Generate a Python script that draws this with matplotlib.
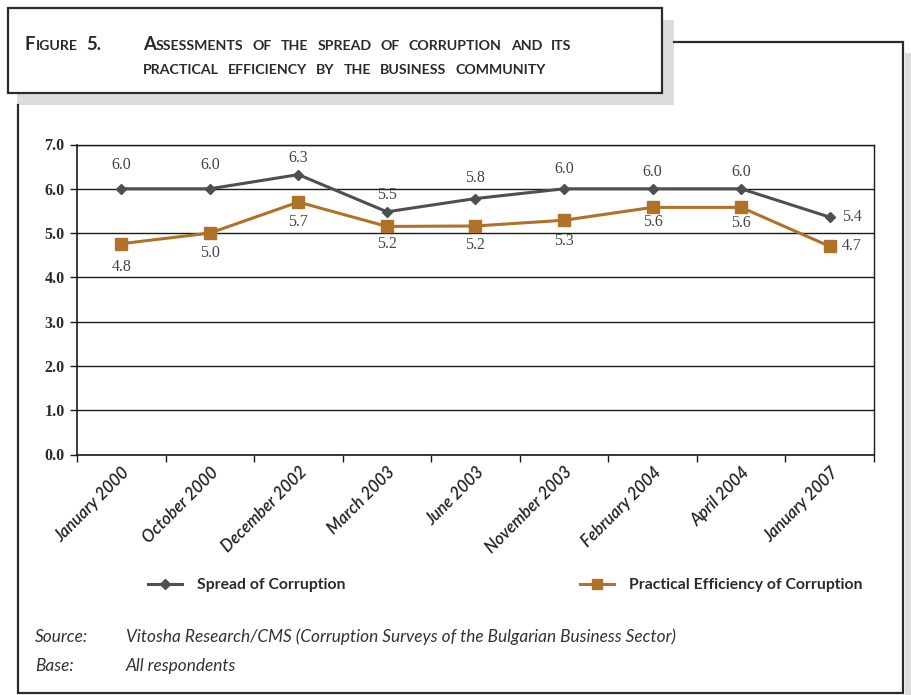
import matplotlib
matplotlib.use("Agg")
import matplotlib.pyplot as plt
from matplotlib.lines import Line2D
from matplotlib.patches import Rectangle

# Survey waves and the two index series (scale 0-7)
waves = ["January 2000", "October 2000", "December 2002", "March 2003", "June 2003",
         "November 2003", "February 2004", "April 2004", "January 2007"]
spread = [6.0, 6.0, 6.32, 5.48, 5.78, 6.0, 6.0, 6.0, 5.36]
efficiency = [4.76, 5.0, 5.7, 5.15, 5.16, 5.29, 5.58, 5.58, 4.7]
y_ticks = [0.0, 1.0, 2.0, 3.0, 4.0, 5.0, 6.0, 7.0]

# Vertical distance (points) of each value label from its marker
spread_label_dy = [17, 17, 12, 12, 14.5, 14, 12, 12, 0]
efficiency_label_dy = [-17, -14.5, -14.5, -13, -13.5, -15, -10.5, -11, 0]

W, H = 912, 695
GRAY = "#4f4f4f"
ORANGE = "#b07128"
SHADOW = "#dcdcdd"
FRAME = "#2b2b2b"

fig = plt.figure(figsize=(W / 100, H / 100), dpi=100)
fig.patch.set_facecolor("white")


def fx(x):
    return x / W


def fy(y):
    return 1 - y / H


def fline(xs, ys, **kw):
    fig.add_artist(Line2D([fx(v) for v in xs], [fy(v) for v in ys],
                          transform=fig.transFigure, **kw))


def frect(x0, y0, x1, y1, **kw):
    fig.add_artist(Rectangle((fx(x0), fy(y1)), fx(x1) - fx(x0), fy(y0) - fy(y1),
                             transform=fig.transFigure, **kw))


# Outer frame with its shadow on the right
frect(905, 53, 912, 695, facecolor=SHADOW, edgecolor="none")
fline([18, 18, 903, 903, 674], [105, 693, 693, 42, 42], color=FRAME, lw=1.6,
      solid_joinstyle="miter")

# Title box with drop shadow
frect(17, 20, 674, 105, facecolor=SHADOW, edgecolor="none")
frect(8, 8, 662, 93, facecolor="white", edgecolor=FRAME, lw=1.6)

# Title in small caps, assembled piece by piece
renderer = fig.canvas.get_renderer()
BIG, SMALL = 13.3, 10.2
TFONT = dict(family="Lato", weight="bold", color="#2a2a2a")


def smallcaps(x, y, words, gap=9):
    cur = x
    for word in words:
        for piece, size in word:
            t = fig.text(fx(cur), fy(y), piece, fontsize=size, va="baseline",
                         ha="left", **TFONT)
            bb = t.get_window_extent(renderer)
            cur += bb.width
        cur += gap


smallcaps(25, 50, [[("F", BIG), ("IGURE", SMALL)], [("5.", BIG)]])
line1 = [[("A", BIG), ("SSESSMENTS", SMALL)]] + [[(w, SMALL)] for w in
        "OF THE SPREAD OF CORRUPTION AND ITS".split()]
smallcaps(143, 50, line1)
line2 = [[(w, SMALL)] for w in "PRACTICAL EFFICIENCY BY THE BUSINESS COMMUNITY".split()]
smallcaps(143, 74, line2)

# Chart area
ax = fig.add_axes([fx(77), fy(454.5), fx(874) - fx(77), fy(144.5) - fy(454.5)])
x = list(range(len(waves)))
l1, = ax.plot(x, spread, color=GRAY, lw=2.2, marker="D", markersize=5.2,
              markerfacecolor=GRAY, markeredgecolor=GRAY, label="Spread of Corruption",
              zorder=4)
l2, = ax.plot(x, efficiency, color=ORANGE, lw=2.2, marker="s", markersize=8.5,
              markerfacecolor=ORANGE, markeredgecolor=ORANGE,
              label="Practical Efficiency of Corruption", zorder=5)

ax.set_xlim(-0.5, len(waves) - 0.5)
ax.set_ylim(0, 7)
ax.set_yticks(y_ticks)
ax.set_yticklabels([f"{v:.1f}" for v in y_ticks], fontfamily="Liberation Serif",
                   fontweight="bold", fontsize=11.5, color="#2a2a2a")
ax.yaxis.grid(True, color="#1a1a1a", lw=1.0)
ax.set_axisbelow(True)
ax.tick_params(axis="y", length=5, width=1.0, color="#1a1a1a", pad=4)

ax.set_xticks([i - 0.5 for i in range(len(waves) + 1)])
ax.set_xticklabels([])
ax.set_xticks(x, minor=True)
ax.set_xticklabels(waves, minor=True, rotation=45, ha="right", va="top",
                   rotation_mode="anchor", fontfamily="Lato", fontstyle="italic",
                   fontweight="semibold", fontsize=12, color="#222222")
ax.tick_params(axis="x", which="major", length=5, width=1.0, color="#1a1a1a")
ax.tick_params(axis="x", which="minor", length=0, pad=7)
for s in ax.spines.values():
    s.set_color("#1a1a1a")
    s.set_linewidth(1.0)
ax.spines["left"].set_linewidth(1.2)
ax.spines["bottom"].set_linewidth(1.2)

# Value labels: above/below the markers, the last ones to the right
LFONT = dict(fontfamily="Liberation Serif", fontsize=11.5, color="#444444")
last = len(waves) - 1
for series, offsets in ((spread, spread_label_dy), (efficiency, efficiency_label_dy)):
    for i, v in enumerate(series):
        if i == last:
            ax.annotate(f"{v:.1f}", (i, v), xytext=(9, 0), textcoords="offset points",
                        ha="left", va="center", **LFONT)
        else:
            ax.annotate(f"{v:.1f}", (i, v), xytext=(0, offsets[i]),
                        textcoords="offset points", ha="center", va="center", **LFONT)

# Legend
leg = fig.legend(handles=[l1, l2], ncol=2, loc="center left",
                 bbox_to_anchor=(fx(148), fy(585)), frameon=False, borderpad=0,
                 borderaxespad=0, handlelength=2.15, handletextpad=1.0,
                 columnspacing=14.9,
                 prop=dict(family="Lato", weight="bold", size=11.3))
for t in leg.get_texts():
    t.set_color("#2a2a2a")
for h in leg.legend_handles:
    h.set_markersize(h.get_markersize() * 0.9)

# Source notes
SFONT = dict(family="Lato", style="italic", fontsize=12.4, color="#333333")
fig.text(fx(35), fy(642), "Source:", va="baseline", **SFONT)
fig.text(fx(126), fy(642),
         "Vitosha Research/CMS (Corruption Surveys of the Bulgarian Business Sector)",
         va="baseline", **SFONT)
fig.text(fx(35), fy(671), "Base:", va="baseline", **SFONT)
fig.text(fx(126), fy(671), "All respondents", va="baseline", **SFONT)

fig.savefig("out.png", dpi=100, facecolor="white")
